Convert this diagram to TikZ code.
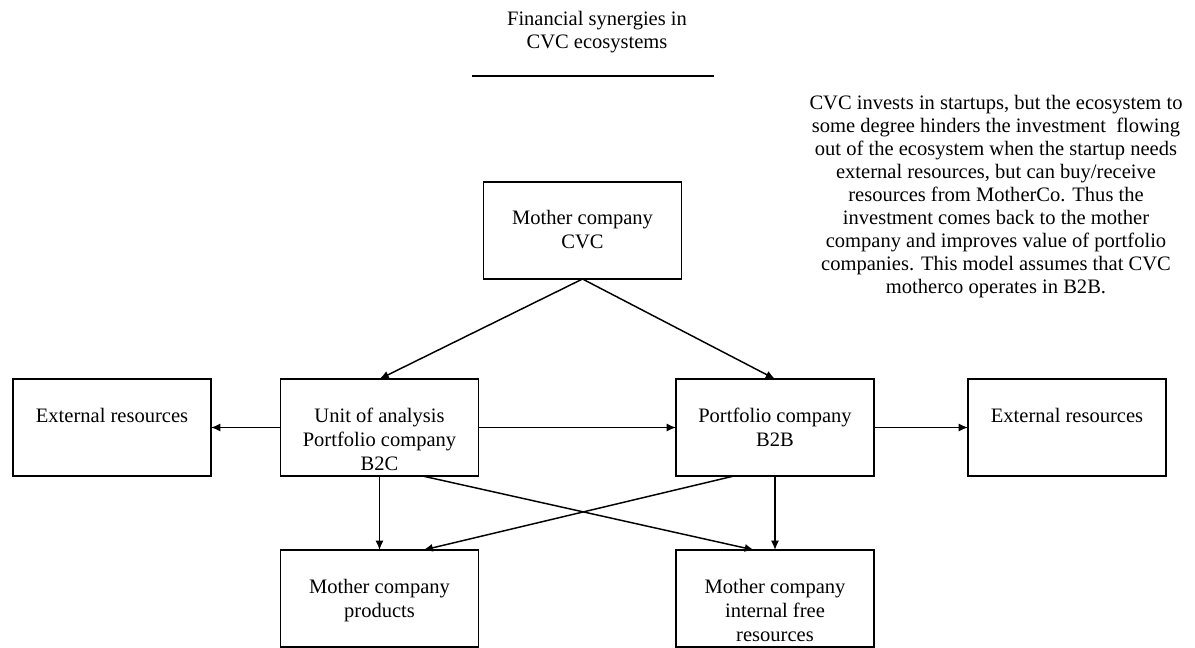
\documentclass[tikz,border=0pt]{standalone}
\usepackage{fontspec}
\setmainfont{Liberation Serif}
\usetikzlibrary{arrows.meta,calc}

\begin{document}
\begin{tikzpicture}[x=0.75pt,y=-0.75pt,
  box/.style={draw=black, line width=1.2pt, minimum width=148.5pt, minimum height=72.75pt,
              inner sep=0pt, outer sep=0pt},
  % labels are anchored at the baseline of their last line
  boxtext/.style={anchor=base, align=center, inner sep=0pt,
                  font=\fontsize{15.4pt}{18pt}\selectfont},
  plain/.style={align=center, inner sep=0pt, font=\fontsize{15.4pt}{17.25pt}\selectfont},
  conn/.style={draw=black, line width=1.1pt, -{Latex[length=7pt,width=6pt]}}
]
\useasboundingbox (0,0) rectangle (1195,648);

% title and rule
\node[plain, anchor=base] (title) at (597,49) {Financial synergies in\\CVC ecosystems};
\coordinate (ruleL) at (472,76);
\coordinate (ruleR) at (714,76);
\draw[line width=1.1pt] (ruleL) -- (ruleR);

% explanatory note
\node[plain, anchor=base] (note) at (996,294)
  {CVC invests in startups, but the ecosystem to\\
   some degree hinders the investment\ \ flowing\\
   out of the ecosystem when the startup needs\\
   external resources, but can buy/receive\\
   resources from MotherCo. Thus the\\
   investment comes back to the mother\\
   company and improves value of portfolio\\
   companies. This model assumes that CVC\\
   motherco operates in B2B.};

% boxes
\node[box] (cvc)  at (582.5,230.5) {};
\node[box] (extL) at (112,427.5) {};
\node[box] (unit) at (379.5,427.5) {};
\node[box] (b2b)  at (775,427.5) {};
\node[box] (extR) at (1067,427.5) {};
\node[box] (prod) at (379.5,598.5) {};
\node[box] (intr) at (775,598.5) {};

% box labels, set from the top of each box
\node[boxtext] (cvcT)  at ([yshift=-50.25pt]cvc.north)  {Mother company\\CVC};
\node[boxtext] (extLT) at ([yshift=-32.25pt]extL.north) {External resources};
\node[boxtext] (unitT) at ([yshift=-68.25pt]unit.north) {Unit of analysis\\Portfolio company\\B2C};
\node[boxtext] (b2bT)  at ([yshift=-50.25pt]b2b.north)  {Portfolio company\\B2B};
\node[boxtext] (extRT) at ([yshift=-32.25pt]extR.north) {External resources};
\node[boxtext] (prodT) at ([yshift=-50.25pt]prod.north) {Mother company\\products};
\node[boxtext] (intrT) at ([yshift=-68.25pt]intr.north) {Mother company\\internal free\\resources};

% connectors
\draw[conn] (cvc.south) -- (unit.north);
\draw[conn] (cvc.south) -- (b2b.north);
\draw[conn] (unit.west) -- (extL.east);
\draw[conn] (unit.east) -- (b2b.west);
\draw[conn] (b2b.east) -- (extR.west);
\draw[conn] (unit.south) -- (prod.north);
\draw[conn] (b2b.south) -- (intr.north);
\draw[conn] ([xshift=-42pt]unit.south east) -- ([xshift=58.5pt]intr.north west);
\draw[conn] ([xshift=43.5pt]b2b.south west) -- ([xshift=-41.25pt]prod.north east);
\end{tikzpicture}
\end{document}
